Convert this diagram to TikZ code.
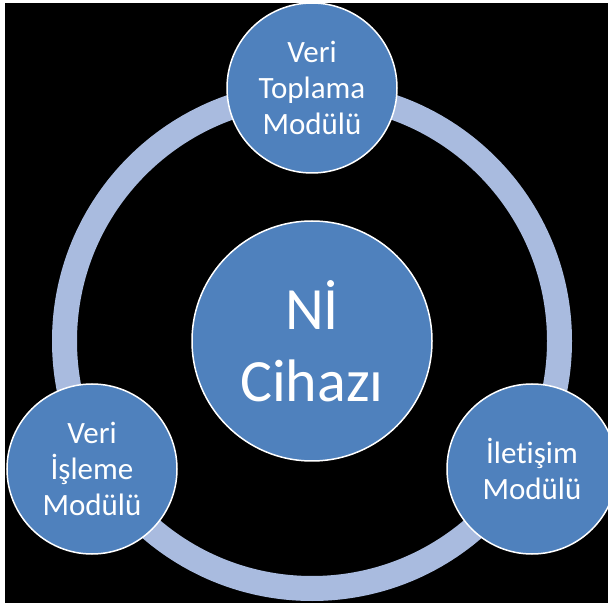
\documentclass[tikz,border=0pt]{standalone}
\usepackage{fontspec}
\setmainfont{Carlito}[Ligatures=NoCommon]

\begin{document}
\begin{tikzpicture}[x=1pt, y=1pt]

    % Colori
    \definecolor{modulblue}{HTML}{4F81BD}
    \definecolor{ringblue}{HTML}{A9BBDF}

    \tikzset{
        modul/.style={circle, fill=modulblue, draw=white, line width=1.5pt,
            text=white, align=center, inner sep=0pt},
        small/.style={modul, minimum size=170pt, font=\fontsize{31}{36}\selectfont},
        big/.style={modul, minimum size=240pt, font=\fontsize{60}{72}\selectfont}
    }

    % Sfondo
    \useasboundingbox (0,0) rectangle (608,603);
    \fill[white] (0,0) rectangle (608,603);
    \fill[black] (5,0) rectangle (608,600);
    \clip (0,0) rectangle (608,603);

    % Anello
    \coordinate (centro) at (312,262);
    \draw[ringblue, line width=25pt] (centro) circle (247.5);

    % Cerchio centrale
    \node[big] (cihaz) at (centro) {Nİ\\Cihazı};

    % Moduli
    \node[small] (toplama) at (312,515) {Veri\\Toplama\\Modülü};
    \node[small] (isleme) at (92,134) {Veri\\İşleme\\Modülü};
    \node[small] (iletisim) at (532,134) {İlet{}işim\\Modülü};

\end{tikzpicture}
\end{document}
